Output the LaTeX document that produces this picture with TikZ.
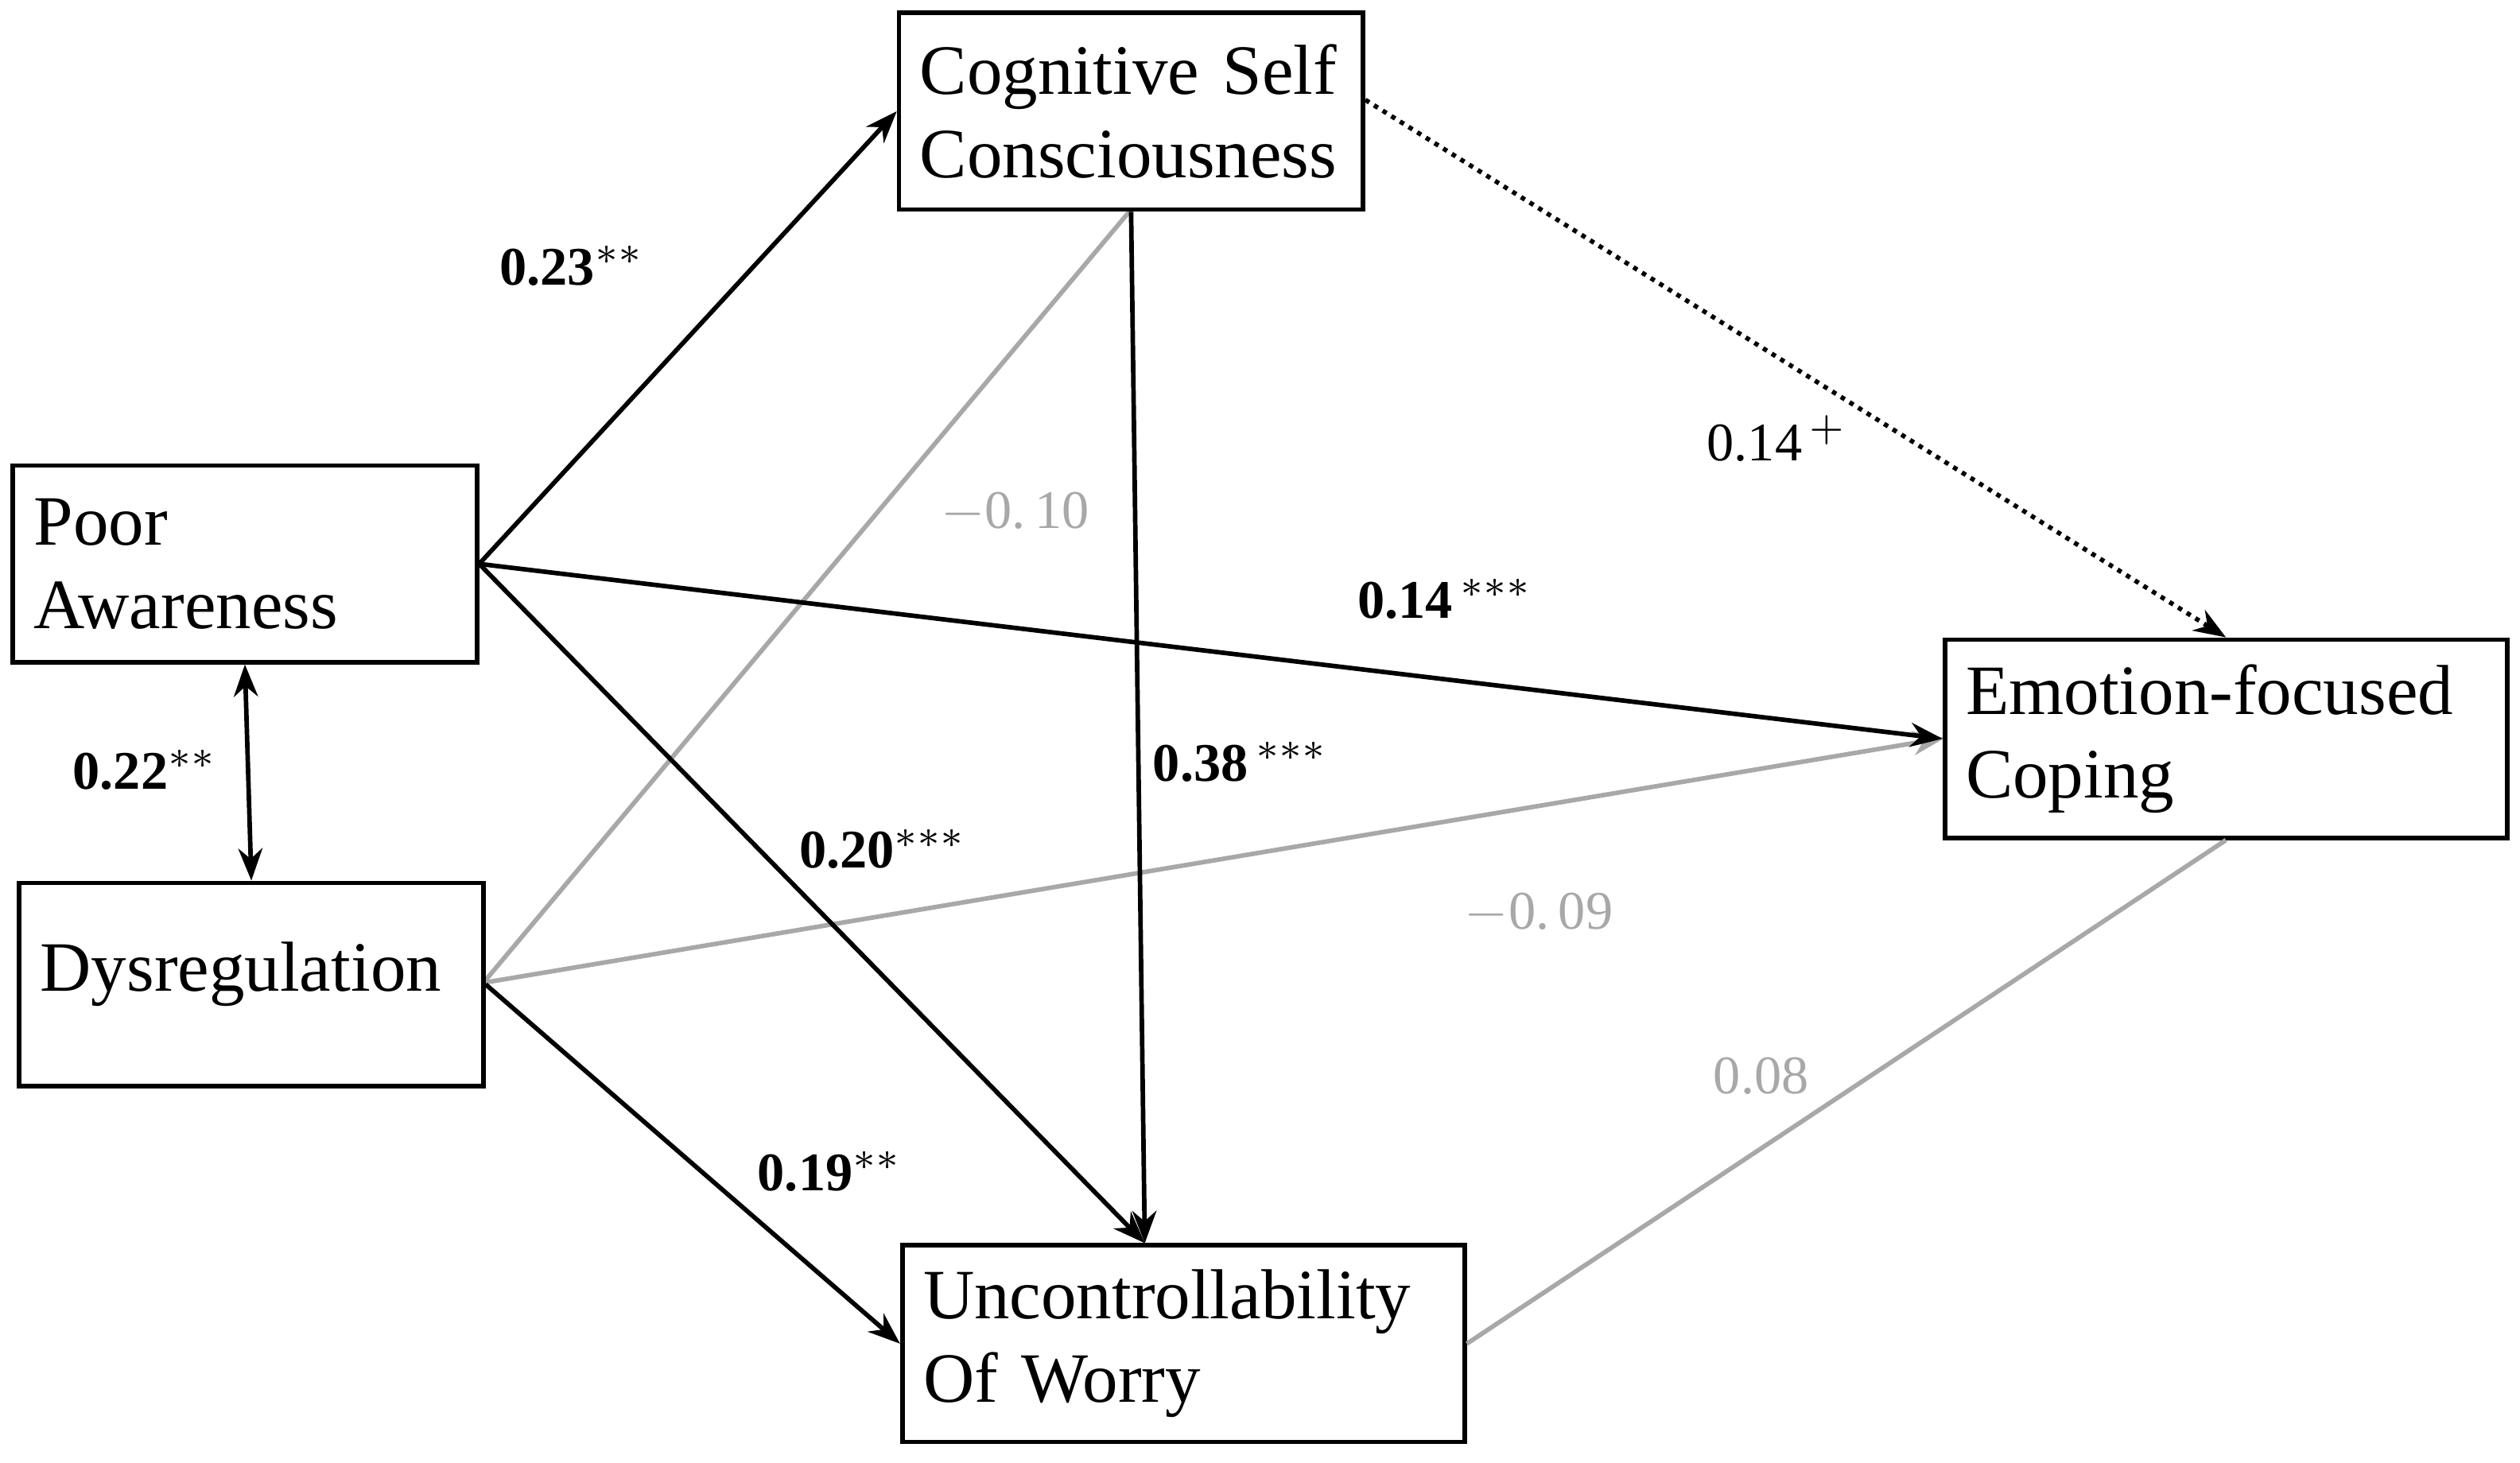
\documentclass[tikz,border=0pt]{standalone}
\usepackage{fontspec}
\setmainfont{Liberation Serif}
\usetikzlibrary{arrows.meta}
\definecolor{lightpath}{gray}{0.66}
\tikzset{
  box/.style={draw, thick, fill=white, align=left, inner xsep=0.13cm, font=\fontsize{12.5}{14.8}\selectfont},
  path/.style={-{Stealth[length=2mm, width=1.5mm]}, thick},
  weak/.style={thick, lightpath},
  coef/.style={font=\bfseries\fontsize{9.6}{12}\selectfont},
  plain/.style={font=\fontsize{9.6}{12}\selectfont},
}
\begin{document}
\begin{tikzpicture}
        \useasboundingbox (0, 0) rectangle (15.64, -9.08);

        \draw[weak] (3.0, -6.1) -- (7.02, -1.30);
        \draw[weak, -{Stealth[length=2mm, width=1.5mm]}] (3.0, -6.1) -- (12.07, -4.58);

        \node[box, minimum width=2.88cm, minimum height=1.22cm, text width=2.62cm] (PA) at (1.52, -3.50) {Poor\\Awareness};
        \node[box, minimum width=2.88cm, minimum height=1.26cm, text width=2.62cm] (Dys) at (1.56, -6.11) {Dysregulation\\[-1.5ex]\mbox{}};
        \node[box, minimum width=2.88cm, minimum height=1.22cm, text width=2.62cm] (CSC) at (7.02, -0.69) {Cognitive Self\\Consciousness};
        \node[box, minimum width=3.49cm, minimum height=1.23cm, text width=3.23cm] (EFC) at (13.815, -4.585) {Emotion-focused\\Coping};
        \node[box, minimum width=3.49cm, minimum height=1.22cm, text width=3.23cm] (UOW) at (7.345, -8.34) {Uncontrollability\\Of Worry};

        \draw[{Stealth[length=2mm, width=1.5mm]}-{Stealth[length=2mm, width=1.5mm]}, thick] (PA.south) -- (Dys.north);
        \draw[path] (PA.east) -- (CSC.west);
        \draw[path] (PA.east) -- (EFC.west);
        \draw[path] (PA.east) -- ([xshift=-0.24cm]UOW.north);
        \draw[path] (Dys.east) -- (UOW.west);
        \draw[path] (CSC.south) -- ([xshift=-0.24cm]UOW.north);
        \draw[path, densely dotted] ([yshift=0.07cm]CSC.east) -- (EFC.north);
        \draw[weak] (UOW.east) -- (EFC.south);

        \node[coef] at (3.55, -1.65) {0.23$^{**}$};
        \node[coef] at (0.90, -4.78) {0.22$^{**}$};
        \node[coef] at (5.48, -5.27) {0.20$^{***}$};
        \node[coef] at (5.15, -7.27) {0.19$^{**}$};
        \node[coef] at (7.70, -4.73) {0.38$^{\,***}$};
        \node[coef] at (8.97, -3.72) {0.14$^{\,***}$};
        \node[plain] at (11.03, -2.72) {0.14$^{\,+}$};
        \node[plain, lightpath] at (6.30, -3.18) {$-$0.\,10};
        \node[plain, lightpath] at (9.55, -5.67) {$-$0.\,09};
        \node[plain, lightpath] at (10.93, -6.68) {0.08};
\end{tikzpicture}
\end{document}
